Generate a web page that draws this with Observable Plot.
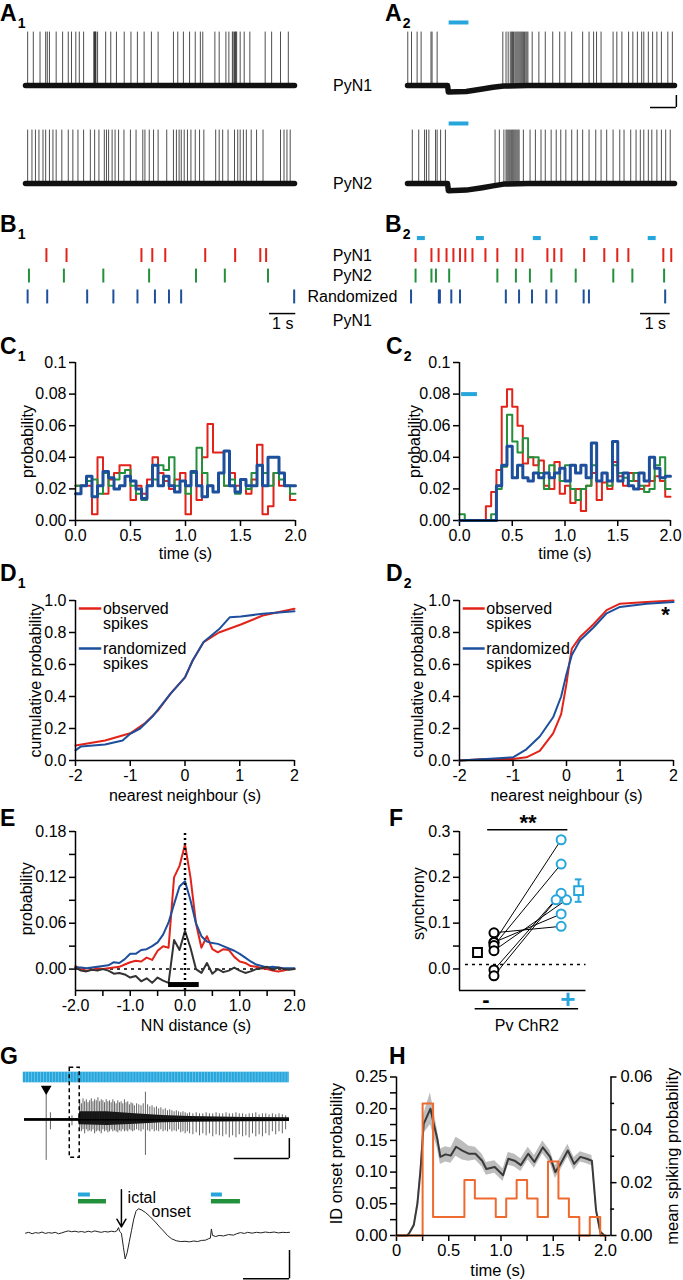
<!DOCTYPE html>
<html><head><meta charset="utf-8">
<script src="https://cdn.jsdelivr.net/npm/d3@7"></script>
<script src="https://cdn.jsdelivr.net/npm/@observablehq/plot@0.6"></script>
<style>
body{margin:0;background:#fff;}
#root{position:relative;width:683px;height:1280px;overflow:hidden;background:#fff;}
.lab{position:absolute;font:bold 23px 'Liberation Sans',Arial,sans-serif;line-height:1.05;color:#000;}
.lab sub{font-size:14px;vertical-align:-7px;margin-left:1px;}
svg g[aria-label*="axis"] line, svg g[aria-label*="axis"] path{stroke-width:1.5;}
</style></head><body><div id="root"></div>
<script>
// ---------------- DATA ----------------
// A: spike times (s) of the overlaid traces
const a1PyN1 = [0.08,0.29,0.54,0.75,0.81,0.89,1.14,1.38,1.59,1.71,1.87,2.0,2.16,2.54,2.56,2.58,2.6,2.62,2.68,2.98,3.17,3.38,3.67,3.92,4.16,4.41,4.68,4.93,5.5,5.66,5.87,6.1,6.31,6.5,6.59,7.04,7.2,7.45,7.56,7.69,7.72,7.77,7.8,7.82,7.85,7.98,8.13,8.34,8.91,9.15,9.48,9.77];
const a1PyN2 = [0.08,0.24,0.37,0.5,0.65,0.75,0.89,1.02,1.14,1.35,1.59,1.76,1.95,2.16,2.41,2.57,2.73,2.93,3.01,3.09,3.22,3.33,3.46,3.66,3.9,4.11,4.36,4.44,4.6,4.76,4.93,5.25,5.5,5.61,5.71,5.79,5.9,6.02,6.15,6.31,6.47,6.63,7.07,7.2,7.33,7.53,7.77,7.89,7.98,8.1,8.21,8.39,8.59,8.83,9.48,9.61,9.72,9.84];
const a2PyN1 = [0.01,0.15,0.36,0.51,0.88,0.92,1.11,3.57,3.69,3.77,3.85,3.9,3.93,3.97,4.02,4.06,4.1,4.14,4.18,4.22,4.26,4.3,4.34,4.38,4.43,4.47,4.51,4.67,4.92,5.16,5.44,5.7,5.9,6.15,6.56,6.8,6.97,7.08,7.25,7.7,7.84,8.03,8.28,8.44,8.61,8.77,8.85,9.02,9.18,9.34,9.51,9.75,9.92];
const a2PyN2 = [0.18,0.42,0.64,0.71,0.8,1.05,1.11,1.24,1.42,3.28,3.44,3.61,3.69,3.73,3.77,3.81,3.85,3.9,3.94,3.98,4.02,4.06,4.1,4.14,4.18,4.34,4.59,4.79,5.0,5.16,5.38,5.57,5.74,5.93,6.15,6.36,6.56,6.8,7.05,7.25,7.46,7.7,7.95,8.11,8.36,8.56,8.72,8.85,9.02,9.15,9.34,9.51,9.67,9.84];
const a1Base = [[0,-65],[10,-65]];
const a2Base1 = [[0,-65],[1.5,-65],[1.53,-76],[2.2,-75],[2.8,-71],[3.2,-68],[3.6,-66],[4.5,-65],[10,-65]];
const a2Base2 = [[0,-65],[1.5,-65],[1.53,-77],[2.2,-76],[2.8,-72],[3.2,-69],[3.6,-66],[4.5,-65],[10,-65]];
const aStim = [1.56, 2.3];

// B: rasters (s)
const b1Red   = [0.79,1.55,4.38,4.79,5.28,6.79,7.92,8.87,9.09];
const b1Green = [0.13,1.45,2.94,4.67,6.44,7.53,9.16];
const b1Blue  = [0.08,0.82,2.33,3.32,4.23,4.89,5.42,5.88,10.15];
const b2Stim  = [0.6,2.83,4.98,7.13,9.32];
const b2Red   = [0.38,0.98,1.25,1.55,1.81,2.06,2.26,2.53,3.02,3.47,4.19,4.42,5.36,5.62,5.89,6.75,7.51,8.0,8.42,9.74,10.04];
const b2Green = [0.38,0.98,1.15,1.65,3.47,4.17,4.7,5.51,6.43,7.85,8.57,9.77];
const b2Blue  = [0.21,1.26,1.3,1.73,2.06,3.79,4.29,4.78,5.32,5.7,6.73,6.93,9.81];
const bRowLabels = ["PyN1","PyN2","Randomized","PyN1"];

// C: 50 ms bins, 0–2 s
const c1Red   = [0.022,0.022,0.022,0.004,0.040,0.017,0.026,0.030,0.035,0.035,0.013,0.022,0.017,0.026,0.040,0.030,0.025,0.020,0.026,0.030,0.004,0.030,0.013,0.040,0.061,0.043,0.043,0.022,0.030,0.022,0.026,0.017,0.026,0.048,0.004,0.009,0.030,0.022,0.022,0.013];
const c1Green = [0.022,0.022,0.025,0.026,0.017,0.030,0.022,0.026,0.030,0.032,0.022,0.017,0.013,0.022,0.026,0.035,0.032,0.040,0.022,0.025,0.017,0.030,0.046,0.030,0.022,0.018,0.030,0.022,0.026,0.017,0.026,0.020,0.030,0.035,0.030,0.022,0.030,0.026,0.022,0.017];
const c1Blue  = [0.017,0.022,0.028,0.015,0.022,0.031,0.027,0.020,0.022,0.028,0.025,0.020,0.014,0.022,0.035,0.022,0.028,0.022,0.018,0.025,0.022,0.031,0.022,0.015,0.022,0.018,0.030,0.044,0.022,0.018,0.026,0.022,0.022,0.035,0.022,0.040,0.040,0.030,0.022,0.022];
const c2Red   = [0,0,0,0,0,0.009,0.018,0.032,0.072,0.083,0.072,0.060,0.036,0.040,0.035,0.038,0.022,0.020,0.037,0.017,0.022,0.011,0.020,0.006,0.022,0.030,0.013,0.024,0.020,0.037,0.028,0.022,0.030,0.025,0.020,0.022,0.025,0.028,0.025,0.015];
const c2Green = [0.004,0,0,0,0,0,0.004,0.020,0.034,0.067,0.050,0.043,0.052,0.040,0.040,0.030,0.020,0.035,0.030,0.025,0.035,0.020,0.013,0.020,0.022,0.035,0.025,0.030,0.022,0.035,0.030,0.027,0.025,0.030,0.022,0.018,0.020,0.035,0.040,0.020];
const c2Blue  = [0,0,0,0,0,0,0,0.022,0.035,0.047,0.027,0.035,0.027,0.025,0.030,0.027,0.030,0.027,0.030,0.033,0.025,0.035,0.030,0.035,0.027,0.049,0.025,0.030,0.025,0.050,0.025,0.030,0.022,0.020,0.030,0.025,0.040,0.033,0.027,0.028];
const c2StimBar = [0.02, 0.17];

// D: cumulative probability vs nearest neighbour (s)
const d1Obs  = [[-2,0.094],[-1.46,0.125],[-1,0.17],[-0.74,0.23],[-0.5,0.31],[-0.26,0.42],[0,0.52],[0.14,0.625],[0.34,0.74],[0.62,0.8],[1.02,0.85],[1.42,0.906],[2,0.948]];
const d1Rand = [[-2,0.063],[-1.9,0.088],[-1.46,0.1],[-1.14,0.125],[-1,0.167],[-0.82,0.2],[-0.58,0.28],[-0.26,0.42],[0,0.52],[0.14,0.625],[0.34,0.74],[0.62,0.82],[0.82,0.896],[1.02,0.9],[1.42,0.917],[2,0.933]];
const d2Obs  = [[-2,0.0],[-1.5,0.01],[-1,0.01],[-0.75,0.02],[-0.5,0.06],[-0.25,0.17],[-0.1,0.29],[0,0.48],[0.05,0.6],[0.1,0.7],[0.25,0.77],[0.5,0.85],[0.75,0.94],[1,0.98],[1.5,0.99],[2,1.0]];
const d2Rand = [[-2,0.0],[-1.5,0.01],[-1,0.02],[-0.75,0.07],[-0.5,0.15],[-0.25,0.27],[-0.1,0.4],[0,0.54],[0.1,0.66],[0.25,0.75],[0.5,0.83],[0.75,0.92],[1,0.96],[1.5,0.98],[2,0.99]];

// E: NN distance histograms (s)
const eT     = [-2,-1.9,-1.8,-1.7,-1.6,-1.5,-1.4,-1.3,-1.2,-1.1,-1,-0.9,-0.8,-0.7,-0.6,-0.5,-0.4,-0.3,-0.2,-0.1,0,0.1,0.2,0.3,0.4,0.5,0.6,0.7,0.8,0.9,1,1.1,1.2,1.3,1.4,1.5,1.6,1.7,1.8,1.9,2];
const eRed   = [0.004,0,-0.002,-0.001,0.001,0,0.001,0.002,0.003,0.006,0.009,0.011,0.01,0.015,0.012,0.024,0.03,0.028,0.12,0.135,0.163,0.12,0.06,0.028,0.043,0.026,0.022,0.026,0.025,0.016,0.01,0.008,0.004,0.003,0.001,0,-0.002,-0.003,-0.002,0,0];
const eBlue  = [0.002,0.002,0.001,0.002,0.003,0.004,0.005,0.009,0.008,0.013,0.02,0.02,0.025,0.026,0.03,0.035,0.045,0.061,0.085,0.108,0.115,0.09,0.06,0.043,0.036,0.034,0.033,0.03,0.027,0.024,0.02,0.015,0.01,0.006,0.004,0.002,0.003,0.002,0.001,0.001,0.001];
const eDiff  = [0.002,-0.002,-0.003,-0.001,-0.002,0,-0.002,-0.006,-0.005,-0.007,-0.011,-0.009,-0.016,-0.012,-0.018,-0.011,-0.015,-0.018,0.038,0.025,0.05,0.028,0,-0.005,0.008,-0.006,0,-0.004,-0.002,0.002,-0.002,-0.005,-0.003,0,0.001,0.003,-0.001,0.002,0,-0.001,0];
const eBar   = [-0.3, 0.26];

// F: synchrony, Pv ChR2 off (-) vs on (+)
const fOff  = [0.079,0.058,0.058,0.051,0.040,-0.002,-0.015];
const fOn   = [0.093,0.282,0.120,0.229,0.151,0.165,0.151];
const fOnX  = [2,2,2,2,2.08,2,1.925];
const fMean = {off:0.036, on:0.171, onSem:0.0245};

// G: top trace events [t (s), min, max] and dense core band
const gSpikes = [[3.93,-2.03,1.38],[4.7,-0.5,0.35],[8.6,-0.3,0.2],
 [10.0,-0.4,1.0],[10.3,-0.6,0.8],[10.6,-0.5,1.05],[10.9,-0.7,0.9],[11.2,-0.5,1.0],[11.5,-0.6,0.85],[11.8,-0.55,0.95],[12.1,-0.6,1.05],[12.4,-0.5,0.9],[12.7,-0.7,1.0],[13.0,-0.6,0.95],[13.3,-0.55,1.1],[13.6,-0.6,0.9],[13.9,-0.7,1.0],[14.2,-0.5,0.95],[14.5,-0.6,0.85],[14.8,-0.55,1.0],[15.1,-0.65,0.9],[15.4,-0.6,0.95],[15.7,-0.5,0.85],[16.0,-0.6,1.0],[16.3,-0.55,0.9],[16.6,-0.6,0.8],[16.9,-0.65,0.95],[17.2,-0.55,0.85],[17.5,-0.6,0.9],[17.8,-0.5,0.8],[18.1,-0.6,1.0],[18.4,-0.55,0.85],[18.7,-0.6,0.9],[19.0,-0.5,0.75],[19.3,-0.55,0.85],[19.6,-0.6,0.8],[19.9,-0.55,0.7],
 [21.9,-1.78,1.38],
 [20.3,-0.5,0.8],[20.7,-0.55,0.75],[21.1,-0.6,0.7],[21.5,-0.5,0.8],[22.3,-0.55,0.75],[22.7,-0.6,0.65],[23.1,-0.5,0.7],[23.5,-0.6,0.6],[23.9,-0.55,0.65],[24.3,-0.6,0.55],[24.7,-0.5,0.6],[25.1,-0.6,0.5],[25.5,-0.55,0.55],[25.9,-0.6,0.45],[26.3,-0.5,0.5],[26.7,-0.6,0.45],[27.1,-0.55,0.4],[27.5,-0.6,0.45],[27.9,-0.5,0.4],[28.3,-0.65,0.35],[28.7,-0.6,0.4],[29.1,-0.7,0.35],[29.5,-0.6,0.3],[29.9,-0.7,0.35],
 [30.5,-0.75,0.3],[31.1,-0.65,0.35],[31.7,-0.8,0.3],[32.3,-0.7,0.3],[32.9,-0.8,0.35],[33.5,-0.7,0.3],[34.1,-0.85,0.3],[34.7,-0.75,0.35],[35.3,-0.8,0.3],[35.9,-0.85,0.3],[36.5,-0.75,0.35],[37.1,-0.9,0.3],[37.7,-0.8,0.3],[38.3,-0.9,0.35],[38.9,-0.75,0.3],[39.5,-0.85,0.3],[40.1,-0.8,0.25],[40.7,-0.9,0.3],[41.3,-0.7,0.3],[41.9,-0.85,0.35],[42.5,-0.75,0.25],[43.1,-0.85,0.3],[43.7,-0.7,0.3],[44.3,-0.8,0.25],[44.9,-0.6,0.3],[45.5,-0.75,0.25],[46.1,-0.6,0.3],[46.7,-0.7,0.25],[47.3,-0.5,0.2]];
const gCore = [[0,-0.07,0.07],[9.8,-0.07,0.07],[10,-0.25,0.4],[15,-0.28,0.4],[20,-0.22,0.3],[25,-0.15,0.22],[30,-0.12,0.16],[40,-0.1,0.12],[48,-0.08,0.1]];
const gPulsePeriod = 0.54;
// G bottom trace: [ms, value]
const gLow = [[0,0.0],[15,0.03],[30,-0.02],[45,0.02],[60,0.0],[75,0.04],[90,-0.01],[105,0.02],[120,0.0],[135,0.03],[150,-0.02],[165,0.01],[180,0.05],[195,0.08],[210,0.05],[225,0.07],[240,0.04],[255,0.06],[270,0.03],[285,0.07],[300,0.04],[315,0.08],[330,0.05],[345,0.03],[360,0.06],[375,0.04],[390,0.07],[405,0.05],[415,0.08],[423,0.2],[428,0.06],[436,0.0],[445,-0.5],[453,-0.92],[462,-0.7],[472,-0.3],[482,0.1],[492,0.5],[502,0.78],[513,0.87],[525,0.84],[545,0.74],[565,0.6],[590,0.4],[610,0.22],[627,0.08],[645,-0.08],[664,-0.2],[685,-0.27],[705,-0.3],[725,-0.29],[745,-0.31],[765,-0.28],[782,-0.3],[800,-0.26],[818,-0.25],[832,-0.2],[840,-0.18],[845,0.15],[850,-0.08],[865,-0.12],[880,-0.08],[900,-0.1],[923,-0.05],[945,-0.07],[960,-0.02],[977,0.02],[995,-0.01],[1010,0.03],[1030,0.0],[1050,0.03],[1070,0.01],[1090,0.04],[1110,0.02],[1130,0.04],[1150,0.01],[1170,0.03],[1185,0.02],[1200,0.03]];
const gLowStim = [[241,295,845,895],[241,368,845,977]];

// H
const hGray = [[0,0,0],[0.1,0,0],[0.12,0.003,0.001],[0.165,0.016,0.003],[0.2,0.05,0.006],[0.23,0.103,0.01],[0.26,0.176,0.015],[0.29,0.187,0.02],[0.325,0.2,0.025],[0.357,0.176,0.02],[0.39,0.153,0.015],[0.42,0.124,0.012],[0.47,0.128,0.012],[0.52,0.126,0.012],[0.57,0.14,0.015],[0.63,0.134,0.015],[0.69,0.129,0.012],[0.755,0.129,0.01],[0.82,0.118,0.01],[0.86,0.105,0.01],[0.94,0.108,0.01],[1.02,0.095,0.01],[1.07,0.121,0.01],[1.13,0.118,0.01],[1.19,0.111,0.01],[1.26,0.129,0.01],[1.32,0.116,0.01],[1.4,0.139,0.01],[1.47,0.124,0.01],[1.52,0.1,0.01],[1.57,0.113,0.01],[1.64,0.134,0.01],[1.7,0.113,0.01],[1.76,0.124,0.008],[1.82,0.121,0.008],[1.87,0.118,0.008],[1.91,0.04,0.006],[1.95,0.006,0.002],[1.99,0,0]];
const hEdges  = [0,0.25,0.35,0.45,0.55,0.65,0.75,0.85,0.95,1.05,1.15,1.25,1.35,1.45,1.55,1.65,1.75,1.85,1.95,2.0];
const hOrange = [0,0.05,0.007,0.007,0.007,0.021,0.014,0.014,0.007,0.014,0.021,0.014,0.007,0.028,0.014,0.007,0,0.007,0,0];
const hRightTicks = [0,0.01,0.02,0.03,0.04,0.05,0.06];

// ---------------- DRAWING ----------------
const FONT = "'Liberation Sans',Arial,sans-serif";
const RED="#e2231a", GREEN="#23903c", BLUE="#1d4f9c", CYAN="#27a6dc", ORANGE="#ef6a2e";
const root = document.getElementById("root");
function place(opts, left, top, fs="16px"){
  const svg = Plot.plot(Object.assign({}, opts, {style:{fontFamily:FONT,fontSize:fs,background:"transparent",color:"#000",overflow:"visible",maxWidth:"none"}}));
  svg.style.position="absolute"; svg.style.left=left+"px"; svg.style.top=top+"px";
  root.appendChild(svg); return svg;
}
function letter(txt, sub, left, top){
  const d=document.createElement("div"); d.className="lab"; d.style.left=left+"px"; d.style.top=top+"px";
  d.innerHTML = txt + (sub?"<sub>"+sub+"</sub>":""); root.appendChild(d);
}
const T = (x,y,text,o={}) => Plot.text([{x,y,text}], Object.assign({x:"x",y:"y",text:"text",fill:"#000"}, o));
const YL = (x,y,text) => T(x,y,text,{rotate:-90});

// ---- A ----
function aTrace(spikes, base, left, top, w, ml, mr, extra){
  place({width:w,height:95,marginLeft:ml,marginRight:mr,marginTop:0,marginBottom:0,
    x:{domain:[0,10],axis:null}, y:{domain:[-115,43.3],axis:null},
    marks:[
      Plot.ruleX(spikes,{x:d=>d,y1:-65,y2:24,stroke:"#222",strokeWidth:0.8}),
      Plot.line(base,{x:d=>d[0],y:d=>d[1],stroke:"#111",strokeWidth:5.5}),
      ...extra]}, left, top);
}
aTrace(a1PyN1, a1Base, 0, 20, 385, 25, 91, [T(12.16,-65,"PyN1")]);
aTrace(a1PyN2, a1Base, 0, 118, 385, 25, 91, [T(12.16,-65,"PyN2")]);
aTrace(a2PyN1, a2Base1, 385, 20, 298, 22, 9, [
  Plot.ruleY([40],{x1:aStim[0],x2:aStim[1],stroke:CYAN,strokeWidth:4}),
  Plot.ruleY([-101.7],{x1:9.1,x2:10.07,strokeWidth:1.5}),
  Plot.ruleX([10.07],{y1:-81.7,y2:-101.7,strokeWidth:1.5})]);
aTrace(a2PyN2, a2Base2, 385, 118, 298, 22, 9, [
  Plot.ruleY([35],{x1:aStim[0],x2:aStim[1],stroke:CYAN,strokeWidth:4})]);

// ---- B ----
const rowY=[1.32,2.32,3.34];
function bPlot(rows, left, w, ml, mr, extra){
  place({width:w,height:102,marginLeft:ml,marginRight:mr,marginTop:0,marginBottom:0,
    x:{domain:[0,10.2],axis:null}, y:{domain:[0,4.976],reverse:true,axis:null},
    marks:[...rows.map(([times,c,yc])=>Plot.ruleX(times,{x:d=>d,y1:yc-0.34,y2:yc+0.34,stroke:c,strokeWidth:2})), ...extra]}, left, 228);
}
bPlot([[b1Red,RED,rowY[0]],[b1Green,GREEN,rowY[1]],[b1Blue,BLUE,rowY[2]]], 0, 385, 25, 90, [
  Plot.ruleY([4.15],{x1:9.22,x2:10.21,strokeWidth:1.5}),
  T(9.72,4.66,"1 s"),
  T(12.35,rowY[0],bRowLabels[0]), T(12.35,rowY[1],bRowLabels[1]), T(12.35,rowY[2],bRowLabels[2]), T(12.35,4.49,bRowLabels[3])]);
bPlot([[b2Red,RED,rowY[0]],[b2Green,GREEN,rowY[1]],[b2Blue,BLUE,rowY[2]]], 385, 298, 20, 8, [
  Plot.rect(b2Stim,{x1:d=>d-0.15,x2:d=>d+0.15,y1:0.39,y2:0.59,fill:CYAN}),
  Plot.ruleY([4.15],{x1:8.88,x2:10.0,strokeWidth:1.5}),
  T(9.44,4.66,"1 s")]);

// ---- C ----
const stepData = vals => vals.map((v,i)=>({t:i*0.05,v})).concat([{t:2,v:vals[vals.length-1]}]);
function cPlot(series, left, w, ml, mr, ylx, extra){
  place({width:w,height:225,marginLeft:ml,marginRight:mr,marginTop:22,marginBottom:45,
    x:{domain:[0,2],ticks:[0,0.5,1,1.5,2],tickFormat:d=>d.toFixed(1),tickSize:6,label:null},
    y:{domain:[0,0.1],ticks:[0,0.02,0.04,0.06,0.08,0.1],tickFormat:d=>d===0.1?"0.1":d.toFixed(2),tickSize:6,label:null},
    marks:[
      ...series.map(([vals,c,sw])=>Plot.line(stepData(vals),{x:"t",y:"v",curve:"step-after",stroke:c,strokeWidth:sw})),
      ...extra,
      T(1.0,-0.021,"time (s)"), YL(ylx,0.05,"probability"),
      Plot.ruleX([0],{strokeWidth:1.5}), Plot.ruleY([0],{strokeWidth:1.5})]}, left, 340);
}
cPlot([[c1Red,RED,2],[c1Green,GREEN,2],[c1Blue,BLUE,3]], 0, 300, 75, 5, -0.43, []);
cPlot([[c2Red,RED,2],[c2Green,GREEN,2],[c2Blue,BLUE,3]], 385, 298, 74, 13, -0.42, [
  Plot.ruleY([0.08],{x1:c2StimBar[0],x2:c2StimBar[1],stroke:CYAN,strokeWidth:4})]);

// ---- D ----
function dPlot(obs, rand, left, w, ml, mr, ylx, extra){
  place({width:w,height:225,marginLeft:ml,marginRight:mr,marginTop:20,marginBottom:45,
    x:{domain:[-2,2],ticks:[-2,-1,0,1,2],tickFormat:d=>String(d),tickSize:6,label:null},
    y:{domain:[0,1],ticks:[0,0.2,0.4,0.6,0.8,1],tickFormat:d=>d.toFixed(1),tickSize:6,label:null},
    marks:[
      Plot.line(obs,{x:d=>d[0],y:d=>d[1],stroke:RED,strokeWidth:2}),
      Plot.line(rand,{x:d=>d[0],y:d=>d[1],stroke:BLUE,strokeWidth:2}),
      Plot.ruleY([0.95],{x1:-1.93,x2:-1.52,stroke:RED,strokeWidth:2.5}),
      Plot.ruleY([0.7],{x1:-1.93,x2:-1.52,stroke:BLUE,strokeWidth:2.5}),
      T(-1.5,0.95,"observed",{textAnchor:"start"}), T(-1.5,0.855,"spikes",{textAnchor:"start"}),
      T(-1.5,0.7,"randomized",{textAnchor:"start"}), T(-1.5,0.605,"spikes",{textAnchor:"start"}),
      T(0,-0.219,"nearest neighbour (s)"), YL(ylx,0.5,"cumulative probability"),
      ...extra,
      Plot.ruleX([-2],{strokeWidth:1.5}), Plot.ruleY([0],{strokeWidth:1.5})]}, left, 580);
}
dPlot(d1Obs, d1Rand, 0, 300, 75, 6, -2.73, []);
dPlot(d2Obs, d2Rand, 385, 298, 74, 10, -2.77, [T(1.85,0.91,"*",{fontSize:22,fontWeight:"bold"})]);

// ---- E ----
const eData = (vals)=>vals.map((v,i)=>({t:eT[i],v}));
place({width:300,height:225,marginLeft:75,marginRight:6,marginTop:16,marginBottom:50,
  x:{domain:[-2,2],ticks:[-2,-1.5,-1,-0.5,0,0.5,1,1.5,2],tickFormat:d=>Number.isInteger(d)?d.toFixed(1):"",tickSize:6,label:null},
  y:{domain:[-0.028,0.18],ticks:[0,0.03,0.06,0.09,0.12,0.15,0.18],tickFormat:d=>Math.abs(d/0.06-Math.round(d/0.06))<1e-6?d.toFixed(2):"",tickSize:6,label:null},
  marks:[
    Plot.ruleY([0],{strokeDasharray:"3,4",strokeWidth:1.5}),
    Plot.line(eData(eRed),{x:"t",y:"v",stroke:RED,strokeWidth:2}),
    Plot.line(eData(eBlue),{x:"t",y:"v",stroke:BLUE,strokeWidth:2}),
    Plot.line(eData(eDiff),{x:"t",y:"v",stroke:"#333",strokeWidth:2}),
    Plot.ruleX([0],{y1:-0.028,y2:0.18,strokeDasharray:"2,3",strokeWidth:2.5}),
    Plot.ruleY([-0.0202],{x1:eBar[0],x2:eBar[1],strokeWidth:5}),
    T(0.2,-0.074,"NN distance (s)"), YL(-2.88,0.092,"probability"),
    Plot.ruleX([-2],{strokeWidth:1.5}), Plot.ruleY([-0.028],{strokeWidth:1.5})]}, 0, 815);

// ---- F ----
const fPairs = fOff.map((v,i)=>({off:v,on:fOn[i],xOn:fOnX[i]}));
place({width:298,height:225,marginLeft:74,marginRight:97.5,marginTop:16,marginBottom:50,
  x:{domain:[0.487,2.37],axis:null},
  y:{domain:[-0.047,0.3],ticks:[0,0.05,0.1,0.15,0.2,0.25,0.3],tickFormat:d=>Math.abs(d*10-Math.round(d*10))<1e-6?d.toFixed(1):"",tickSize:6,label:null},
  marks:[
    Plot.ruleY([0.01],{x1:0.576,x2:2.37,strokeDasharray:"3,4",strokeWidth:1.5}),
    Plot.link(fPairs,{x1:()=>1,y1:"off",x2:"xOn",y2:"on",stroke:"#000",strokeWidth:1}),
    Plot.dot(fPairs,{x:()=>1,y:"off",r:4.5,stroke:"#000",strokeWidth:2,fill:"white"}),
    Plot.dot(fPairs,{x:"xOn",y:"on",r:4.5,stroke:CYAN,strokeWidth:2,fill:"white"}),
    Plot.dot([fMean.off],{x:()=>0.755,y:d=>d,symbol:"square",r:5,stroke:"#000",strokeWidth:2,fill:"white"}),
    Plot.ruleX([2.26],{y1:fMean.on-fMean.onSem,y2:fMean.on+fMean.onSem,stroke:CYAN,strokeWidth:2}),
    Plot.ruleY([fMean.on-fMean.onSem,fMean.on+fMean.onSem],{x1:2.21,x2:2.31,stroke:CYAN,strokeWidth:2}),
    Plot.dot([fMean.on],{x:()=>2.26,y:d=>d,symbol:"square",r:5,stroke:CYAN,strokeWidth:2,fill:"white"}),
    Plot.ruleY([0.304],{x1:0.906,x2:2.1,strokeWidth:1.5}),
    T(1.507,0.318,"**",{fontSize:22,fontWeight:"bold"}),
    T(0.88,-0.068,"-",{fontSize:22,fontWeight:"bold"}),
    T(2.1,-0.068,"+",{fontSize:26,fontWeight:"bold",fill:CYAN}),
    Plot.ruleY([-0.087],{x1:0.72,x2:2.26,strokeWidth:1.5}),
    T(1.49,-0.124,"Pv ChR2"), YL(-0.12,0.1425,"synchrony"),
    Plot.ruleX([0.487],{strokeWidth:1.5}), Plot.ruleY([-0.047],{strokeWidth:1.5})]}, 385, 815);

// ---- G ----
place({width:300,height:110,marginLeft:24,marginRight:11,marginTop:0,marginBottom:0,
  x:{domain:[0,48],axis:null}, y:{domain:[-2.535,2.965],axis:null},
  marks:[
    Plot.rect([0],{x1:-0.22,x2:47.97,y1:1.85,y2:2.38,fill:CYAN}),
    Plot.ruleX(d3.range(0.2,47.9,gPulsePeriod),{y1:1.85,y2:2.38,stroke:"#8fd4f2",strokeWidth:0.6}),
    Plot.areaY(gCore,{x:d=>d[0],y1:d=>d[1],y2:d=>d[2],fill:"#111"}),
    Plot.ruleX(gSpikes,{x:d=>d[0],y1:d=>d[1],y2:d=>d[2],stroke:"#222",strokeWidth:0.7}),
    Plot.ruleY([0],{x1:0,x2:48,stroke:"#000",strokeWidth:1.5}),
    Plot.dot([3.93],{x:d=>d,y:()=>1.55,symbol:"triangle",rotate:180,r:4,fill:"#000",stroke:"none"}),
    Plot.rect([0],{x1:8.2,x2:10.0,y1:-1.9,y2:2.6,fill:"none",stroke:"#000",strokeWidth:1.5,strokeDasharray:"4,3"}),
    Plot.ruleX([47.97],{y1:-0.94,y2:-1.94,strokeWidth:1.5}),
    Plot.ruleY([-1.94],{x1:38,x2:47.97,strokeWidth:1.5})]}, 0, 1060);

place({width:300,height:100,marginLeft:25,marginRight:11,marginTop:0,marginBottom:0,
  x:{domain:[0,1200],axis:null}, y:{domain:[-1.69,1.88],axis:null},
  marks:[
    Plot.line(gLow,{x:d=>d[0],y:d=>d[1],stroke:"#222",strokeWidth:1}),
    Plot.ruleY([1.38],{x1:gLowStim[0][0],x2:gLowStim[0][1],stroke:CYAN,strokeWidth:4}),
    Plot.ruleY([1.38],{x1:gLowStim[0][2],x2:gLowStim[0][3],stroke:CYAN,strokeWidth:4}),
    Plot.ruleY([1.14],{x1:gLowStim[1][0],x2:gLowStim[1][1],stroke:GREEN,strokeWidth:4.5}),
    Plot.ruleY([1.14],{x1:gLowStim[1][2],x2:gLowStim[1][3],stroke:GREEN,strokeWidth:4.5}),
    Plot.arrow([0],{x1:436,y1:1.55,x2:436,y2:0.22,stroke:"#000",strokeWidth:1.5,headLength:9}),
    T(464,1.27,"ictal",{textAnchor:"start"}),
    T(573,0.75,"onset",{textAnchor:"start"}),
    Plot.ruleX([1200],{y1:-0.62,y2:-1.63,strokeWidth:1.5}),
    Plot.ruleY([-1.63],{x1:991,x2:1200,strokeWidth:1.5})]}, 0, 1180);

// ---- H ----
const K = 0.25/0.06;
const hX1 = 2.053, hTick = 0.0574;
place({width:383,height:220,marginLeft:96,marginRight:72.5,marginTop:16.5,marginBottom:45,
  x:{domain:[0,hX1],ticks:[0,0.25,0.5,0.75,1,1.25,1.5,1.75,2],tickFormat:d=>d===0?"0":(Math.abs(d*2-Math.round(d*2))<1e-6?d.toFixed(1):""),tickSize:6,label:null},
  y:{domain:[0,0.25],ticks:[0,0.025,0.05,0.075,0.1,0.125,0.15,0.175,0.2,0.225,0.25],tickFormat:d=>Math.abs(d*20-Math.round(d*20))<1e-6?d.toFixed(2):"",tickSize:6,label:null},
  marks:[
    Plot.areaY(hGray,{x:d=>d[0],y1:d=>d[1]-d[2],y2:d=>d[1]+d[2],fill:"#bdbdbd"}),
    Plot.line(hGray,{x:d=>d[0],y:d=>d[1],stroke:"#3a3a3a",strokeWidth:2}),
    Plot.line(hEdges.map((t,i)=>({t,v:hOrange[i]*K})),{x:"t",y:"v",curve:"step-after",stroke:ORANGE,strokeWidth:2}),
    Plot.ruleY(hRightTicks,{y:d=>d*K,x1:hX1,x2:d=>hX1+(Math.round(d*100)%2===0?hTick:hTick*0.6),strokeWidth:1.5}),
    Plot.text(hRightTicks.filter(d=>Math.round(d*100)%2===0),{x:()=>hX1+0.09,y:d=>d*K,text:d=>d.toFixed(2),textAnchor:"start",fill:"#000"}),
    YL(2.64,0.125,"mean spiking probability"),
    YL(-0.575,0.129,"ID onset probability"),
    T(0.97,-0.0555,"time (s)"),
    Plot.ruleX([0],{strokeWidth:1.5}), Plot.ruleX([hX1],{strokeWidth:1.5}), Plot.ruleY([0],{strokeWidth:1.5})]}, 300, 1060, "16.5px");

// ---- panel letters ----
letter("A","1",0,1); letter("A","2",385,1);
letter("B","1",0,212); letter("B","2",385,212);
letter("C","1",0,334); letter("C","2",386,334);
letter("D","1",0,561); letter("D","2",386,561);
letter("E","",0,806); letter("F","",389,806);
letter("G","",0,1044); letter("H","",389,1044);
</script></body></html>
